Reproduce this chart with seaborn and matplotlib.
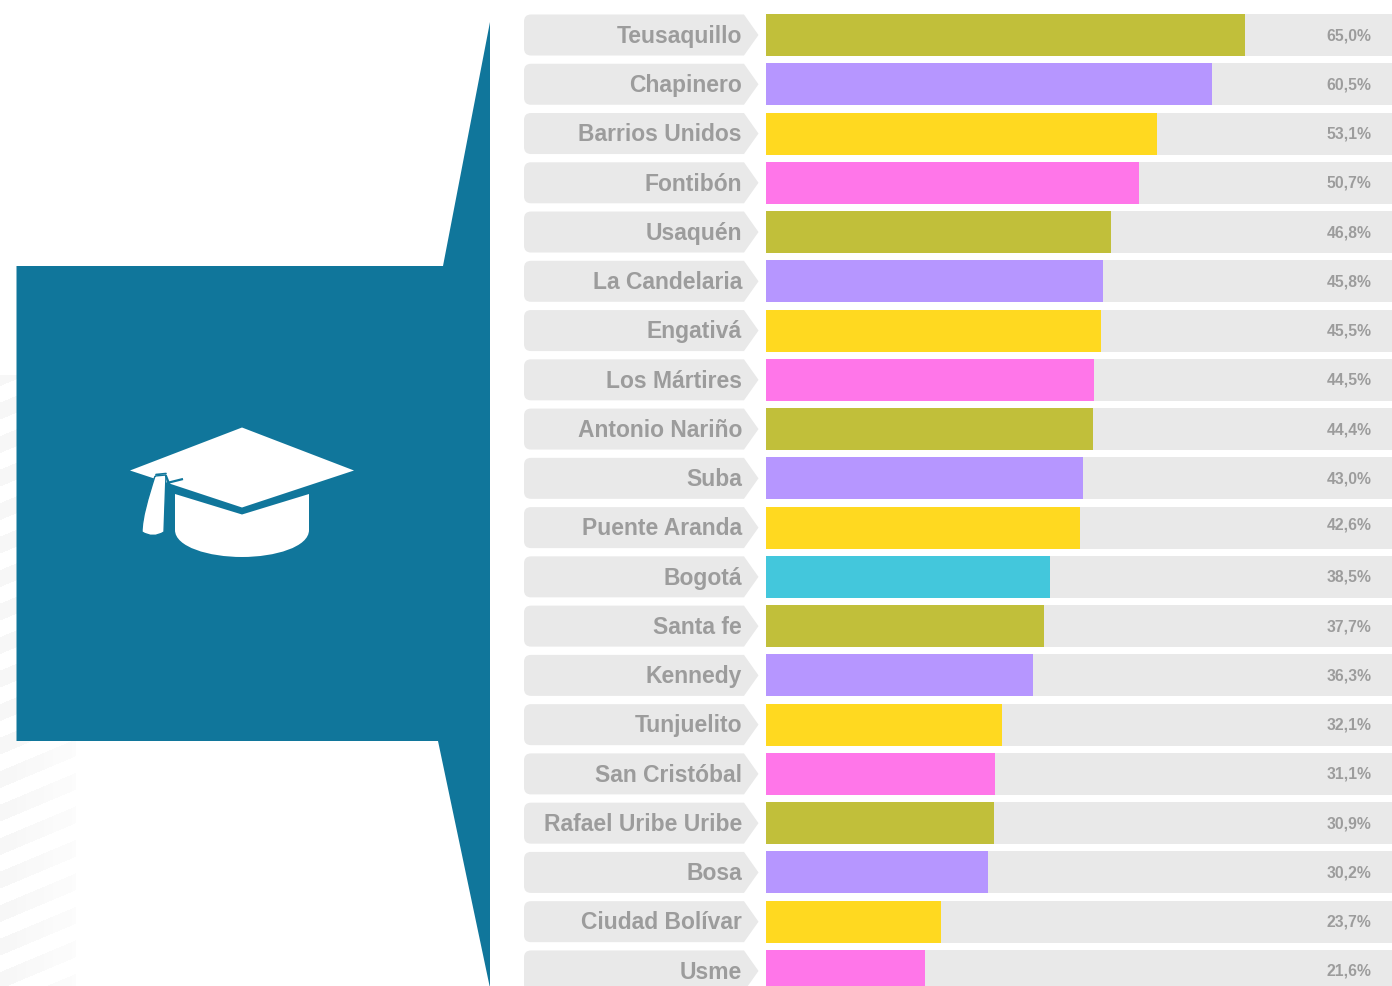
import numpy as np
import pandas as pd
import matplotlib
matplotlib.use('Agg')
import matplotlib.pyplot as plt
from matplotlib.path import Path
from matplotlib.patches import PathPatch, Polygon
from matplotlib.transforms import ScaledTranslation
import seaborn as sns

localidades = ['Teusaquillo', 'Chapinero', 'Barrios Unidos', 'Fontibón', 'Usaquén',
               'La Candelaria', 'Engativá', 'Los Mártires', 'Antonio Nariño', 'Suba',
               'Puente Aranda', 'Bogotá', 'Santa fe', 'Kennedy', 'Tunjuelito',
               'San Cristóbal', 'Rafael Uribe Uribe', 'Bosa', 'Ciudad Bolívar', 'Usme']
valores = [65.0, 60.5, 53.1, 50.7, 46.8, 45.8, 45.5, 44.5, 44.4, 43.0,
           42.6, 38.5, 37.7, 36.3, 32.1, 31.1, 30.9, 30.2, 23.7, 21.6]
grupos = ['a', 'b', 'c', 'd', 'a', 'b', 'c', 'd', 'a', 'b',
          'c', 'e', 'a', 'b', 'c', 'd', 'a', 'b', 'c', 'd']
colores = {'a': '#c1bf3a', 'b': '#b696ff', 'c': '#ffd920', 'd': '#ff76e9', 'e': '#43c7dc'}

W, H = 1392, 987
AZUL = '#10769b'
GRIS = '#e9e9e9'
TEXTO = '#9c9c9c'
PASO = 49.26
Y0 = 36.0
ALTO = 42

sns.set_theme(style='white')
plt.rcParams['font.family'] = ['Liberation Sans', 'DejaVu Sans']

fig = plt.figure(figsize=(W / 100, H / 100), dpi=100)
fig.patch.set_facecolor('white')

# fondo en pixeles
bg = fig.add_axes([0, 0, 1, 1])
bg.axis('off')

# rayas diagonales muy claras
xx, yy = np.meshgrid(np.arange(76), np.arange(375, H + 1))
raya = ((yy + xx * 0.42) % 33.5) < 17
alfa = raya * (0.05 - 0.032 * xx / 75)
img = np.zeros(xx.shape + (4,))
img[..., :3] = 0.35
img[..., 3] = alfa
bg.imshow(img, extent=(0, 76, H + 1, 375), aspect='auto', zorder=1, interpolation='bilinear')
bg.set_xlim(0, W)
bg.set_ylim(H - 1, -1)

# bloque azul con la punta
bg.add_patch(Polygon([(16.5, 266), (443, 266), (490, 22), (490, 988), (438, 741), (16.5, 741)],
                     closed=True, fc=AZUL, ec='none', zorder=2))

# birrete
bg.add_patch(Polygon([(242, 427.5), (354, 470.5), (242, 507.5), (130, 470.5)],
                     closed=True, fc='white', ec='none', zorder=3))
base = Path([(175, 494), (242, 514.5), (309, 494), (309, 530),
             (309, 547), (275, 557), (242, 557), (209, 557), (175, 547), (175, 530), (175, 494)],
            [Path.MOVETO, Path.LINETO, Path.LINETO, Path.LINETO,
             Path.CURVE4, Path.CURVE4, Path.CURVE4, Path.CURVE4, Path.CURVE4, Path.CURVE4, Path.CLOSEPOLY])
bg.add_patch(PathPatch(base, fc='white', ec='none', zorder=3))
borla = Path([(155, 476), (166, 475), (164, 532), (153, 539), (142, 532),
              (142, 518), (148, 498), (155, 476)],
             [Path.MOVETO, Path.LINETO, Path.LINETO, Path.CURVE3, Path.CURVE3,
              Path.CURVE4, Path.CURVE4, Path.CURVE4])
bg.add_patch(PathPatch(borla, fc='white', ec=AZUL, lw=1.0, zorder=4))
bg.plot([167, 183], [483, 479], color=AZUL, lw=1.6, zorder=4, solid_capstyle='butt')
bg.plot([156, 166], [474.5, 473.5], color=AZUL, lw=1.2, zorder=4)
bg.plot([166, 170], [476, 486], color=AZUL, lw=1.6, zorder=4)

# etiquetas con forma de flecha
for i in range(len(localidades)):
    y = 35 + PASO * i
    t, b = y - ALTO / 2 + .5, y + ALTO / 2 - .5
    x0, x1, xp, r = 524, 744, 758.5, 7
    pts = [(x0 + r, t), (x1, t), (xp, y), (x1, b), (x0 + r, b), (x0, b), (x0, b - r),
           (x0, t + r), (x0, t), (x0 + r, t), (x0 + r, t)]
    cod = [Path.MOVETO, Path.LINETO, Path.LINETO, Path.LINETO, Path.LINETO, Path.CURVE3, Path.CURVE3,
           Path.LINETO, Path.CURVE3, Path.CURVE3, Path.CLOSEPOLY]
    bg.add_patch(PathPatch(Path(pts, cod), fc=GRIS, ec='none', zorder=2))

# barras
df = pd.DataFrame({'localidad': localidades, 'valor': valores, 'grupo': grupos})
df['pista'] = 85

ax = fig.add_axes([766 / W, 0, (W - 766) / W, 1])
ax.patch.set_alpha(0)
sns.barplot(data=df, y='localidad', x='pista', color=GRIS, saturation=1,
            width=ALTO / PASO, linewidth=0, ax=ax)
sns.barplot(data=df, y='localidad', x='valor', hue='grupo', palette=colores, dodge=False,
            saturation=1, width=ALTO / PASO, linewidth=0, legend=False, ax=ax)
ax.set_xlim(0, 85)
ax.set_ylim((H - Y0) / PASO, -Y0 / PASO)
ax.set_xlabel('')
ax.set_ylabel('')
ax.set_xticks([])
ax.tick_params(axis='y', length=0, pad=17.3)
sube = ScaledTranslation(0, 2.2 / 100, fig.dpi_scale_trans)
for lab in ax.get_yticklabels():
    lab.set_fontsize(16.45)
    lab.set_fontweight('bold')
    lab.set_color(TEXTO)
    lab.set_transform(lab.get_transform() + sube)
sns.despine(ax=ax, left=True, bottom=True)

for i, v in enumerate(valores):
    txt = f'{v:.1f}'.replace('.', ',') + '%'
    dy = -0.08 if localidades[i] == 'Puente Aranda' else -0.01
    ax.text(82.2, i + dy, txt, ha='right', va='center', fontsize=11.3,
            fontweight='bold', color=TEXTO)

fig.savefig('out.png', dpi=100)
